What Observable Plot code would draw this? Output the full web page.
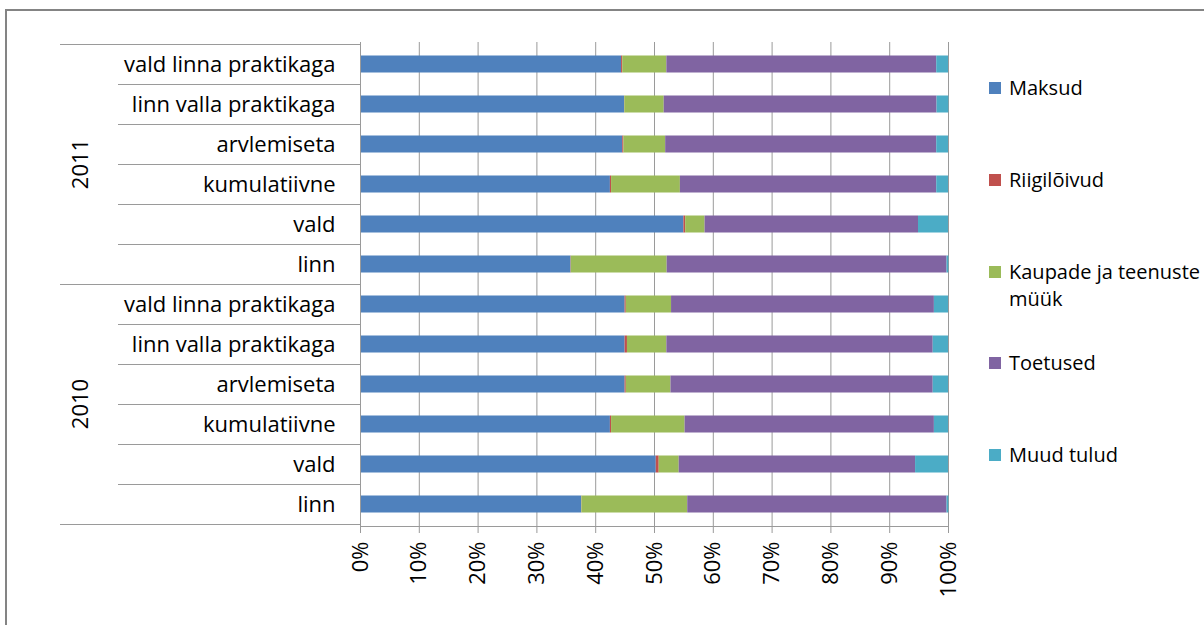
<!DOCTYPE html>
<html>
<head>
<meta charset="utf-8">
<script src="https://cdn.jsdelivr.net/npm/d3@7"></script>
<script src="https://cdn.jsdelivr.net/npm/@observablehq/plot@0.6"></script>
<style>
  html, body { margin: 0; padding: 0; background: #fff; }
  #wrap { position: relative; width: 1204px; height: 625px; overflow: hidden; font-family: "Open Sans", "Noto Sans", sans-serif; color: #000; }
  #border { position: absolute; left: 5px; top: 9px; width: 1300px; height: 700px; border: 2px solid #848484; box-sizing: border-box; }
  #chart { position: absolute; left: 0; top: 0; }
  .leg { position: absolute; left: 989px; display: flex; align-items: flex-start; font-size: 20px; line-height: 27.5px; }
  .leg .sw { width: 12px; height: 12px; margin-top: 8px; margin-right: 8px; flex: none; }
  .leg .lab { width: 200px; }
</style>
</head>
<body>
<div id="wrap"><div id="border"></div><div id="chart"></div></div>
<script>
const years = ["2011", "2010"];
const categories = ["vald linna praktikaga", "linn valla praktikaga", "arvlemiseta", "kumulatiivne", "vald", "linn"];
const series = ["Maksud", "Riigilõivud", "Kaupade ja teenuste müük", "Toetused", "Muud tulud"];
const colors = ["#4f81bd", "#c0504d", "#9bbb59", "#8064a2", "#4bacc6"];
const xTicks = [0, 10, 20, 30, 40, 50, 60, 70, 80, 90, 100];

// values in %, rows: 2011 (categories order), then 2010 (categories order)
const maksud      = [44.4, 44.9, 44.6, 42.5, 55.0, 35.8,   45.0, 45.0, 45.0, 42.5, 50.3, 37.6];
const riigiloivud = [0.2, 0.05, 0.2, 0.2, 0.3, 0.05,       0.2, 0.4, 0.2, 0.2, 0.5, 0.05];
const kaupade     = [7.5, 6.7, 7.1, 11.7, 3.3, 16.3,       7.7, 6.7, 7.6, 12.5, 3.4, 18.0];
const toetused    = [45.9, 46.4, 46.1, 43.6, 36.3, 47.6,   44.7, 45.3, 44.6, 42.4, 40.2, 44.1];
const muud        = [2.0, 2.0, 2.0, 2.0, 5.1, 0.3,         2.4, 2.6, 2.6, 2.4, 5.6, 0.3];

const seriesValues = [maksud, riigiloivud, kaupade, toetused, muud];
const keys = years.flatMap(y => categories.map(c => `${y}|${c}`));
const rows = [];
series.forEach((s, si) => keys.forEach((k, ki) => rows.push({key: k, series: s, value: seriesValues[si][ki]})));

const FONT = "'Open Sans', 'Noto Sans', sans-serif";
const gray = "#9a9a9a";

const plot = Plot.plot({
  width: 1204,
  height: 625,
  marginLeft: 360,
  marginRight: 256,
  marginTop: 42,
  marginBottom: 99,
  style: {fontFamily: FONT, fontSize: "22px", color: "#000", background: "transparent", overflow: "visible"},
  x: {domain: [0, 100], label: null},
  y: {domain: keys, padding: 0, label: null},
  color: {domain: series, range: colors},
  marks: [
    Plot.gridX(xTicks, {stroke: gray, strokeOpacity: 1, strokeWidth: 1}),
    Plot.barX(rows, Plot.stackX({x: "value", y: "key", fill: "series", order: series, insetTop: 11.5, insetBottom: 11.5})),
    Plot.frame({anchor: "left", stroke: gray, strokeOpacity: 1}),
    Plot.frame({anchor: "bottom", stroke: gray, strokeOpacity: 1}),
    Plot.axisX({ticks: xTicks, tickFormat: d => d + "%", tickSize: 7, tickPadding: 8, tickRotate: -90, stroke: gray, fontSize: 22, label: null}),
    Plot.axisY({tickFormat: d => d.split("|")[1], tickSize: 0, tickPadding: 25, fontSize: 22, label: null})
  ]
});

document.getElementById("chart").appendChild(plot);

// separator lines in the category axis area + year group labels
const ys = plot.scale("y");
const svg = d3.select(plot);
const bw = ys.bandwidth;
const lines = [];
keys.forEach((k, i) => {
  const top = ys.apply(k);
  const isYearStart = i % categories.length === 0;
  lines.push({y: top, x1: isYearStart ? 60 : 118});
});
lines.push({y: ys.apply(keys[keys.length - 1]) + bw, x1: 60});
svg.append("g").selectAll("line").data(lines).join("line")
  .attr("x1", d => d.x1).attr("x2", 360)
  .attr("y1", d => Math.round(d.y) + 0.5).attr("y2", d => Math.round(d.y) + 0.5)
  .attr("stroke", gray).attr("stroke-width", 1);

svg.append("g").selectAll("text").data(years).join("text")
  .attr("transform", y => {
    const top = ys.apply(`${y}|${categories[0]}`);
    const cy = top + bw * categories.length / 2;
    return `translate(80,${cy}) rotate(-90)`;
  })
  .attr("text-anchor", "middle")
  .attr("dy", "0.35em")
  .attr("font-family", FONT)
  .attr("font-size", 22)
  .attr("fill", "#000")
  .text(y => y);

// legend
const color = plot.scale("color");
const wrap = document.getElementById("wrap");
series.forEach((s, i) => {
  const div = document.createElement("div");
  div.className = "leg";
  div.style.top = (87.5 - 13.75 + i * 91.9) + "px";
  const sw = document.createElement("div");
  sw.className = "sw";
  sw.style.background = color.apply(s);
  const lab = document.createElement("div");
  lab.className = "lab";
  lab.textContent = s;
  div.appendChild(sw);
  div.appendChild(lab);
  wrap.appendChild(div);
});
</script>
</body>
</html>
